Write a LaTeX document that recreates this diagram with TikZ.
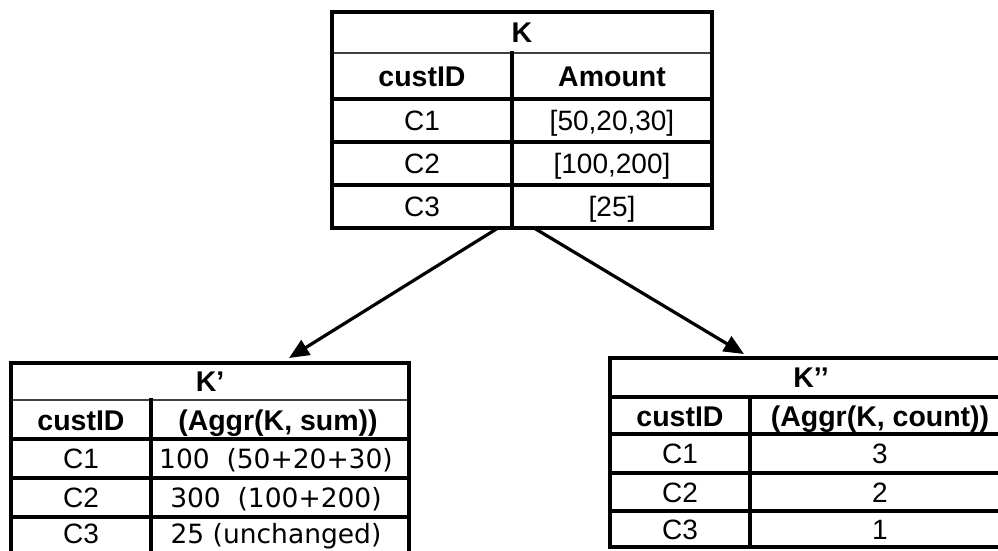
\documentclass[tikz,border=0pt]{standalone}
\usepackage{fontspec}
\setmainfont{Liberation Sans}
\newfontfamily\widefont{DejaVu Sans}
\usetikzlibrary{arrows.meta}
\tikzset{
  frame/.style={line width=3.4pt, line cap=rect},
  thinrule/.style={line width=1.6pt, draw=black!75},
  cell/.style={inner sep=0pt, text height=20pt, text depth=0pt, anchor=center,
               font=\fontsize{28}{32}\selectfont},
  head/.style={cell, font=\fontsize{28.5}{32}\selectfont\bfseries},
  widecell/.style={cell, font=\fontsize{26.5}{32}\selectfont\widefont},
  flow/.style={line width=3.2pt, -{Triangle[length=20pt,width=17pt]}},
}
\begin{document}
\begin{tikzpicture}[x=1pt,y=-1pt]
\useasboundingbox (0,0) rectangle (998,550);
\clip (0,0) rectangle (998,550);

% ---- table K ----
\draw[thinrule] (332,53) -- (712,53);
\draw[frame] (332,12) rectangle (712,228);
\draw[frame] (332,99) -- (712,99) (332,142) -- (712,142) (332,185) -- (712,185);
\draw[frame] (512,53) -- (512,228);
\node[head] (kT) at (522,32) {K};
\node[head] (kH1) at (422,76) {custID};
\node[head] (kH2) at (612,76) {Amount};
\node[cell] (kA1) at (422,120) {C1};
\node[cell] (kB1) at (612,120) {[50,20,30]};
\node[cell] (kA2) at (422,163) {C2};
\node[cell] (kB2) at (612,163) {[100,200]};
\node[cell] (kA3) at (422,206) {C3};
\node[cell] (kB3) at (612,206) {[25]};

% ---- table K' (sum) ----
\draw[thinrule] (11,400) -- (409,400);
\draw[frame] (11,363) rectangle (409,556);
\draw[frame] (11,439) -- (409,439) (11,478) -- (409,478) (11,517) -- (409,517);
\draw[frame] (151,400) -- (151,556);
\node[head] (sT) at (210,381) {K’};
\node[head] (sH1) at (81,420) {custID};
\node[head] (sH2) at (278,420) {(Aggr(K, sum))};
\node[cell] (sA1) at (81,458) {C1};
\node[widecell] (sB1) at (276,458) {100~ (50+20+30)};
\node[cell] (sA2) at (81,497) {C2};
\node[widecell] (sB2) at (276,497) {300~ (100+200)};
\node[cell] (sA3) at (81,533) {C3};
\node[widecell] (sB3) at (276,533) {25 (unchanged)};

% ---- table K'' (count) ----
\draw[frame] (610,358) rectangle (1012,547);
\draw[frame] (610,397) -- (1012,397) (610,434) -- (1012,434) (610,473) -- (1012,473) (610,511) -- (1012,511);
\draw[frame] (750,397) -- (750,547);
\node[head] (cT) at (811,377) {K’’};
\node[head] (cH1) at (680,416) {custID};
\node[head] (cH2) at (880,416) {(Aggr(K, count))};
\node[cell] (cA1) at (680,453) {C1};
\node[cell] (cB1) at (880,453) {3};
\node[cell] (cA2) at (680,492) {C2};
\node[cell] (cB2) at (880,492) {2};
\node[cell] (cA3) at (680,529) {C3};
\node[cell] (cB3) at (880,529) {1};

% ---- derivation arrows ----
\coordinate (srcL) at (498,228);
\coordinate (srcR) at (534,228);
\coordinate (dstL) at (289,358);
\coordinate (dstR) at (744,354);
\draw[flow] (srcL) -- (dstL);
\draw[flow] (srcR) -- (dstR);
\end{tikzpicture}
\end{document}
